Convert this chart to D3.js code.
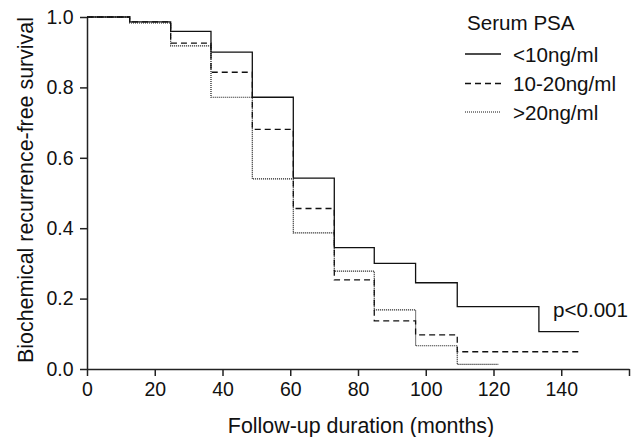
<!DOCTYPE html>
<html>
<head>
<meta charset="utf-8">
<script src="https://cdn.jsdelivr.net/npm/d3@7"></script>
<style>
  html, body { margin: 0; padding: 0; background: #fff; }
  svg { display: block; font-family: "Liberation Sans", Arial, sans-serif; }
</style>
</head>
<body>
<svg id="chart" width="641" height="437"></svg>
<script>
// ---- data ----
const stepTimes = [0, 12.6, 24.7, 36.6, 48.8, 60.9, 73, 84.8, 97, 109.3, 133.4];
const seriesNames = ["<10ng/ml", "10-20ng/ml", ">20ng/ml"];
const survLow  = [1.0, 0.986, 0.959, 0.900, 0.772, 0.542, 0.345, 0.300, 0.245, 0.177, 0.106];
const survMid  = [1.0, 0.986, 0.926, 0.843, 0.681, 0.456, 0.253, 0.137, 0.097, 0.049];
const survHigh = [1.0, 0.983, 0.918, 0.772, 0.540, 0.387, 0.278, 0.168, 0.066, 0.013];
const endTimes = [145.2, 145.2, 121.4];
const xTicks = [0, 20, 40, 60, 80, 100, 120, 140, 160];
const xTickLabels = ["0", "20", "40", "60", "80", "100", "120", "140", ""];
const yTicks = [0, 0.2, 0.4, 0.6, 0.8, 1.0];
const legendTitle = "Serum PSA";
const pText = "p<0.001";
const xTitle = "Follow-up duration (months)";
const yTitle = "Biochemical recurrence-free survival";

// ---- layout ----
const svg = d3.select("#chart");
const x = d3.scaleLinear().domain([0, 160]).range([87, 629]);
const y = d3.scaleLinear().domain([0, 1]).range([369, 17]);
const FONT = "Liberation Sans, Arial, sans-serif";

function buildPoints(vals, endT) {
  const pts = vals.map((v, i) => [stepTimes[i], v]);
  pts.push([endT, vals[vals.length - 1]]);
  return pts;
}
const series = [
  { name: seriesNames[0], pts: buildPoints(survLow, endTimes[0]), dash: null, w: 1.3 },
  { name: seriesNames[1], pts: buildPoints(survMid, endTimes[1]), dash: "6,4", w: 1.3 },
  { name: seriesNames[2], pts: buildPoints(survHigh, endTimes[2]), dash: "1,1", w: 1.2 }
];

const line = d3.line().x(d => x(d[0])).y(d => y(d[1])).curve(d3.curveStepAfter);

// axes
const xAxis = d3.axisBottom(x).tickValues(xTicks).tickSize(7).tickSizeOuter(0)
  .tickFormat((d, i) => xTickLabels[i]);
const gx = svg.append("g").attr("transform", "translate(0,369)").call(xAxis);
gx.select(".domain").attr("stroke", "#222").attr("stroke-width", 1.5);
gx.selectAll(".tick line").attr("stroke", "#222").attr("stroke-width", 1.5);
gx.selectAll(".tick text").attr("font-size", 19.5).attr("fill", "#111")
  .attr("y", 13).attr("dy", "0.71em").attr("font-family", FONT);

const yAxis = d3.axisLeft(y).tickValues(yTicks).tickSize(7).tickSizeOuter(0)
  .tickFormat(d3.format(".1f"));
const gy = svg.append("g").attr("transform", "translate(87,0)").call(yAxis);
gy.select(".domain").attr("stroke", "#222").attr("stroke-width", 1.5);
gy.selectAll(".tick line").attr("stroke", "#222").attr("stroke-width", 1.5);
gy.selectAll(".tick text").attr("font-size", 19.5).attr("fill", "#111").attr("x", -13.5)
  .attr("font-family", FONT);

// curves (dotted first, solid on top)
[2, 1, 0].forEach(i => {
  const s = series[i];
  svg.append("path")
    .attr("d", line(s.pts))
    .attr("fill", "none")
    .attr("stroke", "#111")
    .attr("stroke-width", s.w)
    .attr("stroke-dasharray", s.dash);
});

// titles
svg.append("text").attr("x", 361).attr("y", 433).attr("text-anchor", "middle")
  .attr("font-size", 21.4).attr("fill", "#111").text(xTitle);
svg.append("text").attr("transform", "translate(33,190) rotate(-90)").attr("text-anchor", "middle")
  .attr("font-size", 21.4).attr("fill", "#111").text(yTitle);

// legend
svg.append("text").attr("x", 467).attr("y", 30).attr("font-size", 20.6).attr("fill", "#111").text(legendTitle);
const legY = [54, 83.5, 112];
series.forEach((s, i) => {
  svg.append("line").attr("x1", 465).attr("x2", 501).attr("y1", legY[i]).attr("y2", legY[i])
    .attr("stroke", "#111").attr("stroke-width", s.dash === "1,1" ? 1 : 1.3)
    .attr("stroke-dasharray", s.dash);
  svg.append("text").attr("x", 513).attr("y", legY[i] + 7.5).attr("font-size", 20.6).attr("fill", "#111").text(s.name);
});

// p-value
svg.append("text").attr("x", 553).attr("y", 317).attr("font-size", 20.6).attr("fill", "#111").text(pText);
</script>
</body>
</html>
